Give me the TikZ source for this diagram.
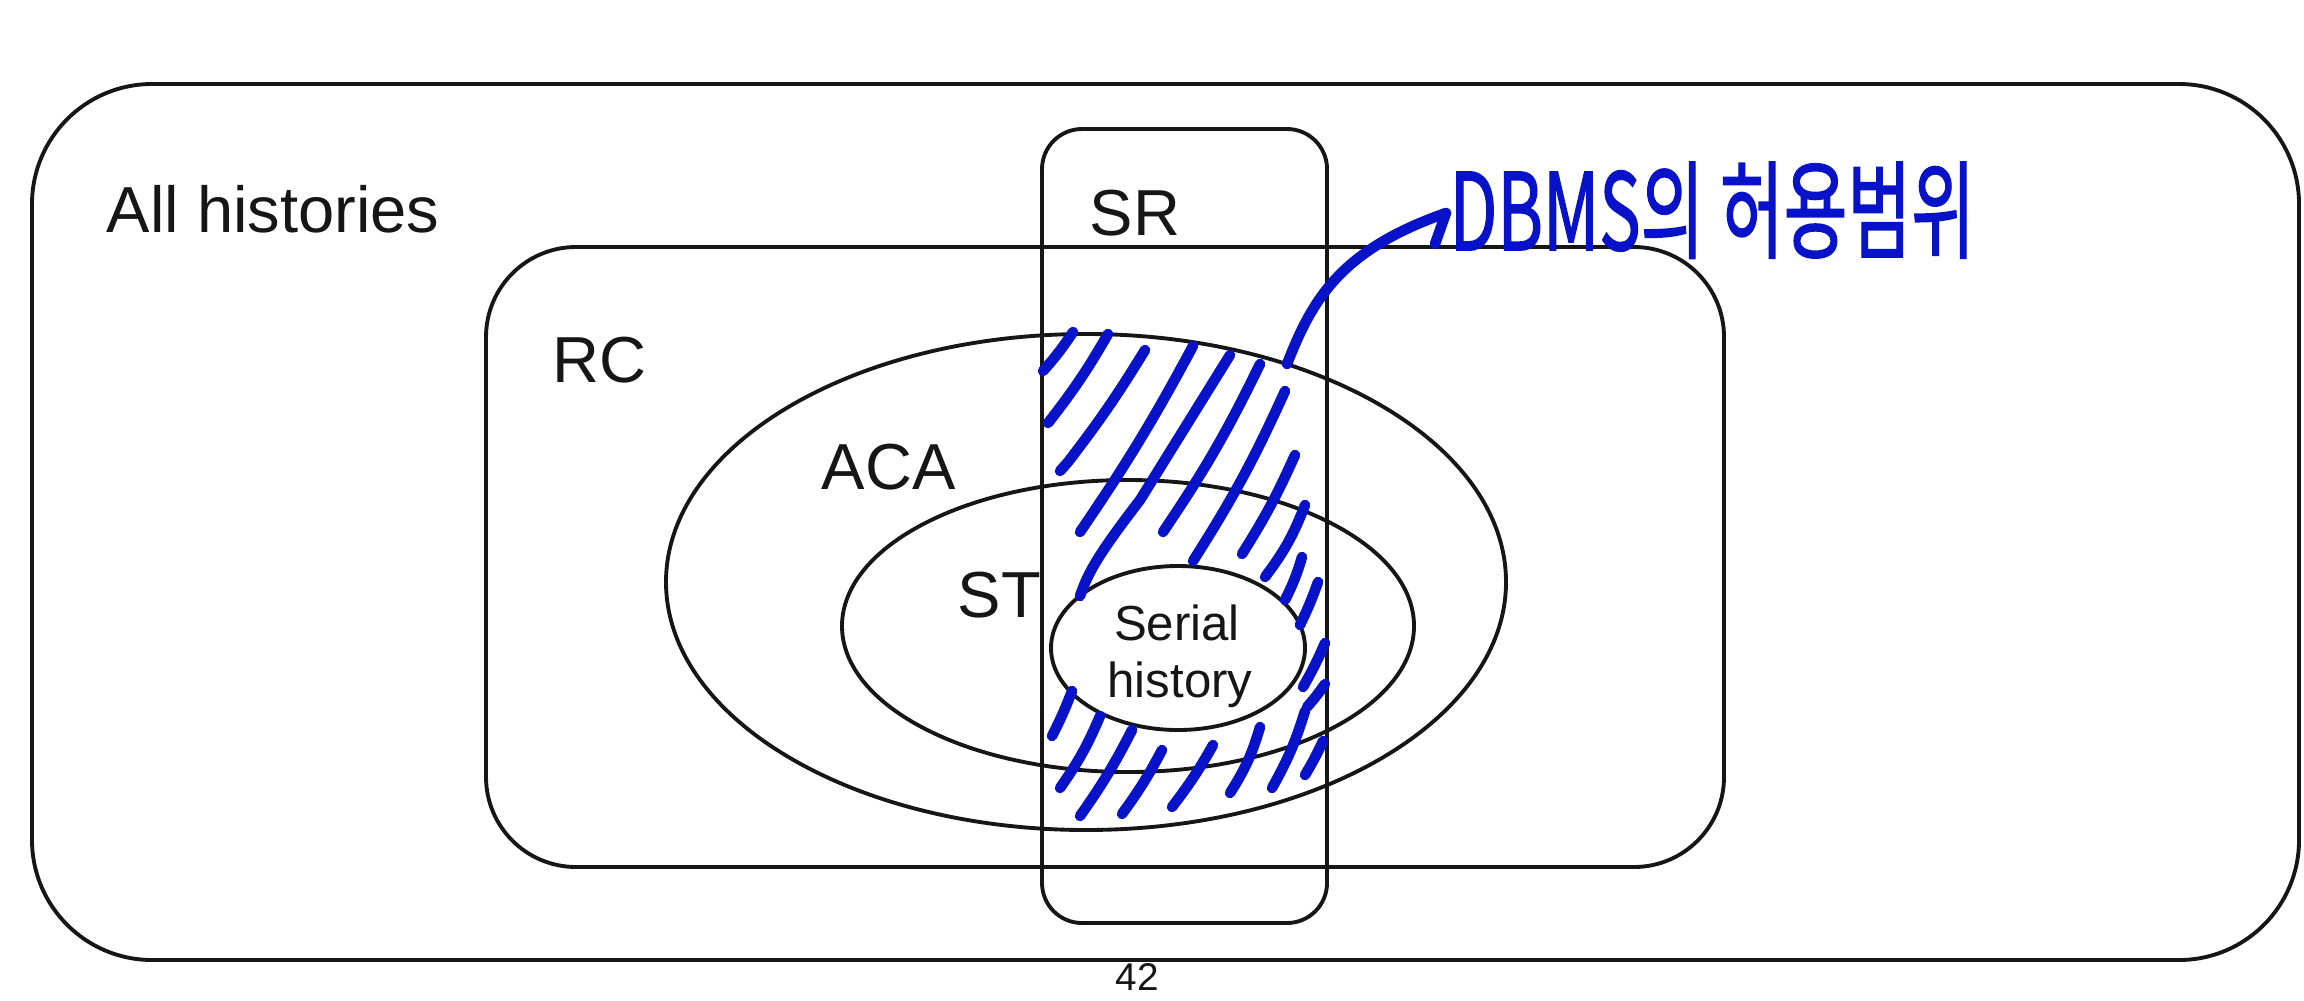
\documentclass[tikz,border=0pt]{standalone}
\usepackage{fontspec}
\setmainfont{Liberation Sans}
\newfontfamily\kfont[FakeBold=1.6]{Noto Sans CJK KR}
\usetikzlibrary{arrows.meta}
\definecolor{pen}{RGB}{8,18,200}
\definecolor{ink}{RGB}{22,22,22}
\begin{document}
\begin{tikzpicture}[x=0.01cm,y=-0.01cm,
  setline/.style={draw=ink,line width=1.1pt},
  lab/.style={font=\fontsize{18.5}{22}\selectfont, text=ink, inner sep=0pt, anchor=base west},
  small/.style={font=\fontsize{14}{16}\selectfont, text=ink, inner sep=0pt, anchor=base},
  hatch/.style={draw=pen, line width=3pt, line cap=round, line join=round}]
\useasboundingbox (0,0) rectangle (2304,1000);
% sets
\draw[setline, rounded corners=1.2cm] (32,84) rectangle (2299,960);
\draw[setline, rounded corners=0.9cm] (486,247) rectangle (1724,867);
\draw[setline] (1086,582) ellipse [x radius=420, y radius=248];
\draw[setline] (1128,626) ellipse [x radius=286, y radius=146];
\draw[setline] (1178,648) ellipse [x radius=127, y radius=82];
\draw[setline, rounded corners=0.4cm] (1042,129) rectangle (1327,923);
% labels
\node[lab] (all) at (106,232) {All histories};
\node[lab] (sr) at (1089,235) {SR};
\node[lab] (rc) at (552,382) {RC};
\node[lab] (aca) at (821,489) {ACA};
\node[lab] (st) at (957,617) {ST};
\node[small] (ser) at (1177,640) {Serial};
\node[small] (his) at (1180,697) {history};
\node[font=\fontsize{11}{13}\selectfont, text=ink, inner sep=0pt] (pg) at (1137,977) {42};
% handwritten note
\node[inner sep=0pt, anchor=base west, text=pen] (note) at (1449,250)
  {\resizebox{5.25cm}{0.88cm}{\kfont DBMS의 허용범위}};
\coordinate (tail) at (1287,364);
\coordinate (tip) at (1446,213);
\draw[hatch] (tail) .. controls (1312,300) and (1340,250) .. (tip) -- (1435,244);
% hatching
\draw[hatch] (1043,371) to[bend right=4] (1073,332);
\draw[hatch] (1048,423) to[bend right=4] (1108,334);
\draw[hatch] (1060,471) -- (1068,462) to[bend right=3] (1145,350);
\draw[hatch] (1080,532) to[bend right=3] (1193,346);
\draw[hatch] (1080,596) .. controls (1088,572) and (1100,552) .. (1140,500) -- (1230,355);
\draw[hatch] (1163,532) to[bend right=4] (1260,364);
\draw[hatch] (1193,561) to[bend right=4] (1285,391);
\draw[hatch] (1242,554) to[bend right=4] (1295,455);
\draw[hatch] (1265,577) to[bend right=8] (1305,505);
\draw[hatch] (1285,600) to[bend right=5] (1302,557);
\draw[hatch] (1300,625) to[bend right=3] (1318,582);
\draw[hatch] (1303,687) to[bend right=3] (1325,643);
\draw[hatch] (1307,707) to[bend right=3] (1325,684);
\draw[hatch] (1052,736) to[bend right=3] (1072,691);
\draw[hatch] (1060,788) to[bend right=6] (1100,716);
\draw[hatch] (1080,816) to[bend right=4] (1132,730);
\draw[hatch] (1122,814) to[bend right=4] (1162,750);
\draw[hatch] (1172,807) to[bend right=4] (1213,745);
\draw[hatch] (1230,793) to[bend right=8] (1260,727);
\draw[hatch] (1272,788) to[bend right=6] (1305,711);
\draw[hatch] (1305,775) to[bend right=3] (1323,741);
\end{tikzpicture}
\end{document}
